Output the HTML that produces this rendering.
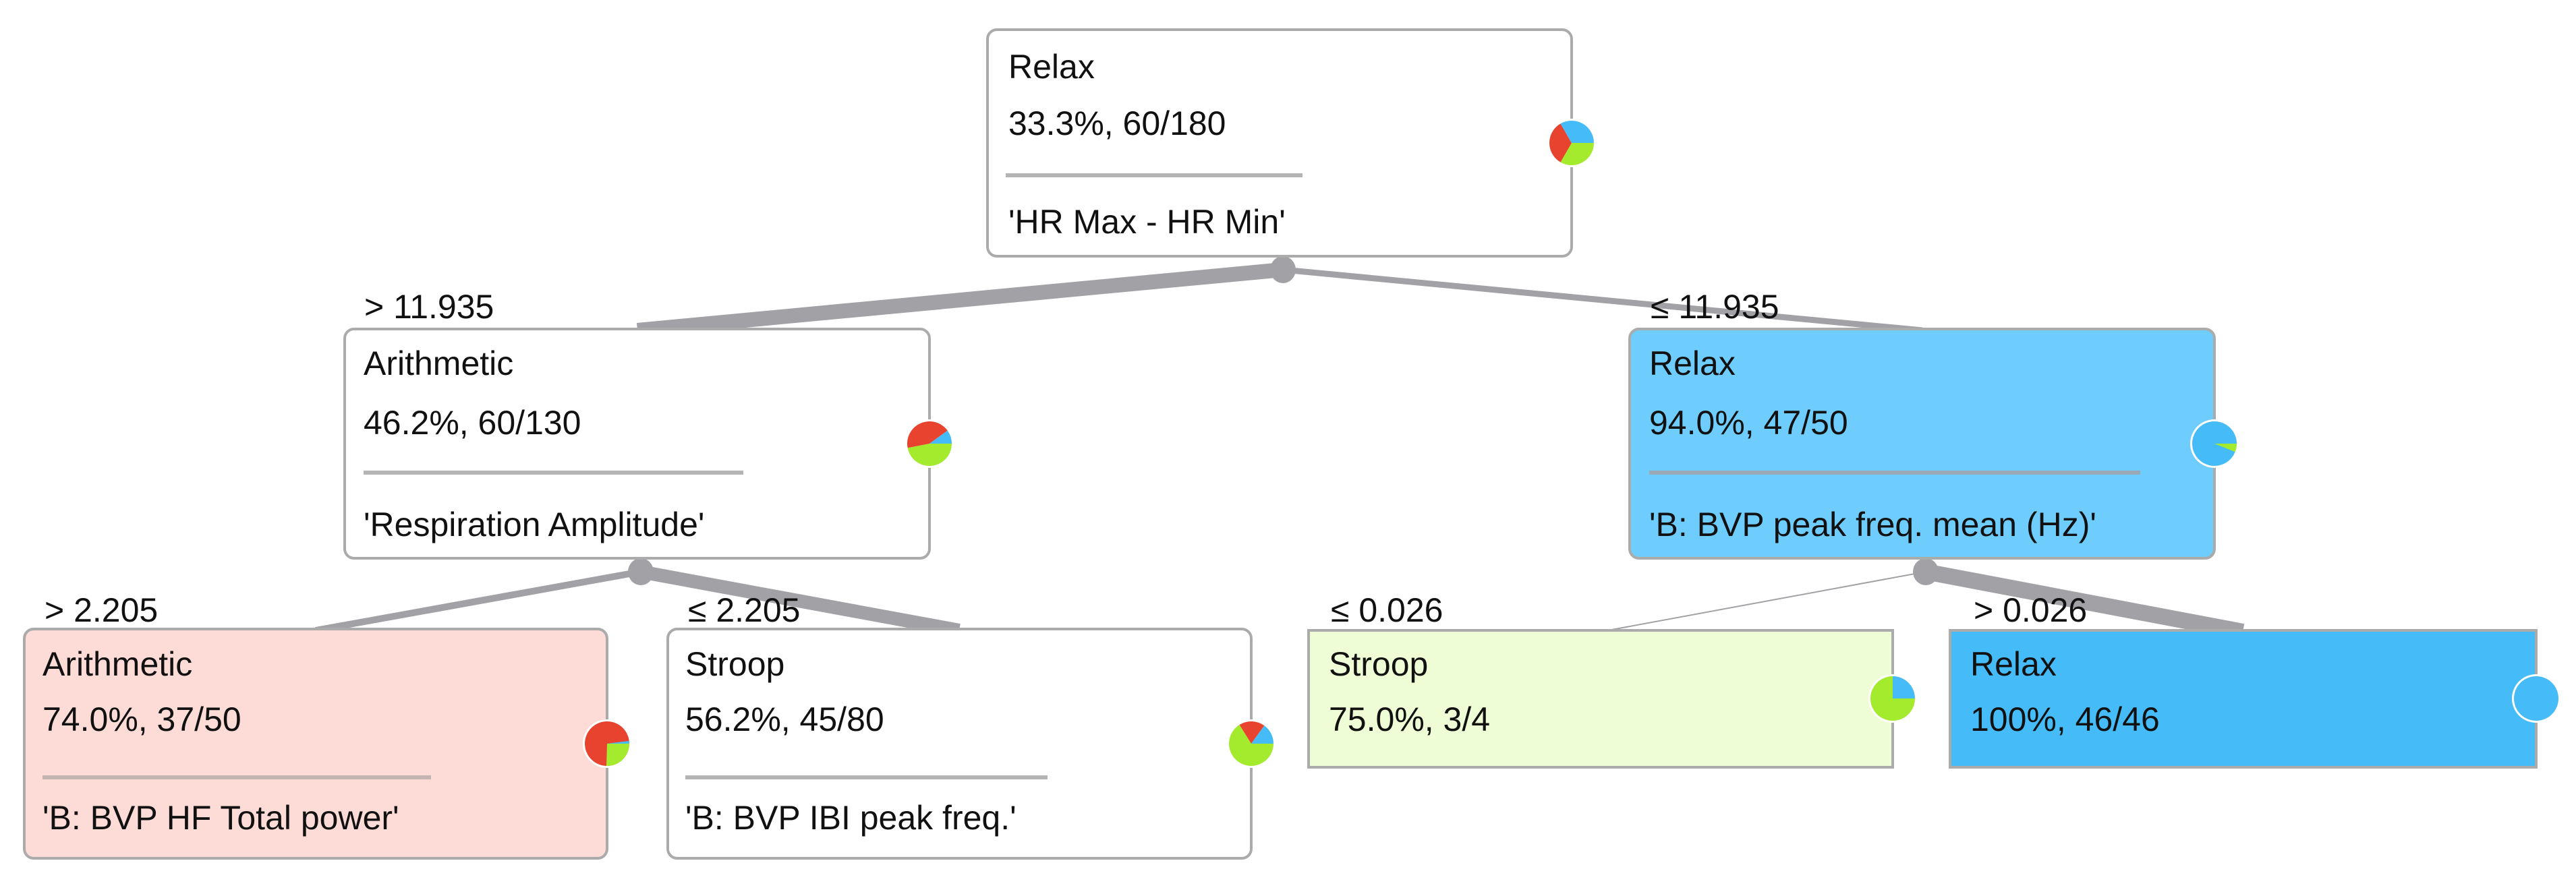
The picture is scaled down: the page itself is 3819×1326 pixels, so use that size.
<!DOCTYPE html>
<html><head><meta charset="utf-8"><style>
html,body{margin:0;padding:0;background:#fff;}
svg{display:block;}
text{font-family:"Liberation Sans",sans-serif;font-size:50px;fill:#111;}
</style></head><body>
<svg width="3819" height="1326" viewBox="0 0 3819 1326" xmlns="http://www.w3.org/2000/svg">
<g stroke="#a2a2a6" stroke-linecap="butt">
<line x1="1902" y1="400" x2="945" y2="490" stroke-width="22"/>
<line x1="1902" y1="400" x2="2850" y2="490" stroke-width="9"/>
<line x1="950" y1="848" x2="468" y2="935" stroke-width="10"/>
<line x1="950" y1="848" x2="1422" y2="935" stroke-width="20"/>
<line x1="2855" y1="848" x2="2373" y2="937" stroke-width="2"/>
<line x1="2855" y1="848" x2="3325" y2="937" stroke-width="24"/>
</g>
<g fill="#a2a2a6"><ellipse cx="1902" cy="400" rx="19" ry="20"/><ellipse cx="950" cy="848" rx="19" ry="20"/><ellipse cx="2855" cy="848" rx="19" ry="20"/></g>

<g stroke="#ababab" stroke-width="4">
<rect x="1464" y="44" width="866" height="336" rx="14" fill="#fff"/>
<rect x="511" y="488" width="867" height="340" rx="14" fill="#fff"/>
<rect x="2416" y="488" width="867" height="340" rx="14" fill="#6fcdfd"/>
<rect x="36" y="933" width="864" height="340" rx="14" fill="#fddcd8"/>
<rect x="990" y="933" width="865" height="340" rx="14" fill="#fff"/>
<rect x="1940" y="935" width="866" height="203" fill="#eefdd5"/>
<rect x="2891" y="935" width="869" height="203" fill="#45bcf8"/>
</g>
<g stroke="#b4b4b4" stroke-width="6">
<line x1="1491" y1="260" x2="1931" y2="260"/>
<line x1="539" y1="701" x2="1102" y2="701"/>
<line x1="2445" y1="701" x2="3173" y2="701" stroke="#99aab6"/>
<line x1="63" y1="1153" x2="639" y2="1153" stroke="#c4b4b2"/>
<line x1="1016" y1="1153" x2="1553" y2="1153"/>
</g>

<text x="1495" y="116">Relax</text>
<text x="1495" y="200">33.3%, 60/180</text>
<text x="1495" y="346">'HR Max - HR Min'</text>

<text x="540" y="472">&gt; 11.935</text>
<text x="2447" y="472">≤ 11.935</text>

<text x="539" y="556">Arithmetic</text>
<text x="539" y="644">46.2%, 60/130</text>
<text x="539" y="795">'Respiration Amplitude'</text>

<text x="2445" y="556">Relax</text>
<text x="2445" y="644">94.0%, 47/50</text>
<text x="2445" y="795">'B: BVP peak freq. mean (Hz)'</text>

<text x="66" y="922">&gt; 2.205</text>
<text x="1020" y="922">≤ 2.205</text>
<text x="1973" y="922">≤ 0.026</text>
<text x="2926" y="922">&gt; 0.026</text>

<text x="63" y="1002">Arithmetic</text>
<text x="63" y="1084">74.0%, 37/50</text>
<text x="63" y="1230">'B: BVP HF Total power'</text>

<text x="1016" y="1002">Stroop</text>
<text x="1016" y="1084">56.2%, 45/80</text>
<text x="1016" y="1230">'B: BVP IBI peak freq.'</text>

<text x="1970" y="1002">Stroop</text>
<text x="1970" y="1084">75.0%, 3/4</text>

<text x="2921" y="1002">Relax</text>
<text x="2921" y="1084">100%, 46/46</text>

<!-- pies: clockwise from 3 o'clock: green, red, blue -->
<g stroke="none">
<!-- root 60/60/60 -->
<g transform="translate(2330,212)">
<circle r="36" fill="#fff"/>
<path d="M0 0 L33 0 A33 33 0 0 1 -16.5 28.58 Z" fill="#a4eb2d"/>
<path d="M0 0 L-16.5 28.58 A33 33 0 0 1 -16.5 -28.58 Z" fill="#e8432e"/>
<path d="M0 0 L-16.5 -28.58 A33 33 0 0 1 33 0 Z" fill="#45bcf8"/>
</g>
<!-- L1 left: stroop 57, arith 60, relax 13 of 130 -->
<g transform="translate(1378,658)">
<circle r="36" fill="#fff"/>
<path d="M0 0 L33 0 A33 33 0 0 1 -32.4 6.3 Z" fill="#a4eb2d"/>
<path d="M0 0 L-32.4 6.3 A33 33 0 0 1 26.7 -19.4 Z" fill="#e8432e"/>
<path d="M0 0 L26.7 -19.4 A33 33 0 0 1 33 0 Z" fill="#45bcf8"/>
</g>
<!-- L1 right: stroop 3/50, relax rest -->
<g transform="translate(3283,658)">
<circle r="36" fill="#fff"/>
<circle r="33" fill="#45bcf8"/>
<path d="M0 0 L33 0 A33 33 0 0 1 30.6 12.3 Z" fill="#a4eb2d"/>
</g>
<!-- LL: stroop 12, arith 37, relax 1 of 50 -->
<g transform="translate(900,1103)">
<circle r="36" fill="#fff"/>
<circle r="33" fill="#e8432e"/>
<path d="M0 0 L33 0 A33 33 0 0 1 -1.0 33 Z" fill="#a4eb2d"/>
<path d="M0 0 L32.7 -4.1 A33 33 0 0 1 33 0 Z" fill="#45bcf8"/>
</g>
<!-- LR: stroop 45, arith 23, relax 12 of 80 -->
<g transform="translate(1855,1103)">
<circle r="36" fill="#fff"/>
<path d="M0 0 L33 0 A33 33 0 1 1 -17.5 -28 Z" fill="#a4eb2d"/>
<path d="M0 0 L-17.5 -28 A33 33 0 0 1 19.4 -26.7 Z" fill="#e8432e"/>
<path d="M0 0 L19.4 -26.7 A33 33 0 0 1 33 0 Z" fill="#45bcf8"/>
</g>
<!-- stroop leaf: stroop 3, relax 1 -->
<g transform="translate(2806,1036)">
<circle r="36" fill="#fff"/>
<path d="M0 0 L33 0 A33 33 0 1 1 0 -33 Z" fill="#a4eb2d"/>
<path d="M0 0 L0 -33 A33 33 0 0 1 33 0 Z" fill="#45bcf8"/>
</g>
<!-- relax leaf -->
<g transform="translate(3760,1036)">
<circle r="36" fill="#fff"/>
<circle r="33" fill="#45bcf8"/>
</g>
</g>
</svg>
</body></html>
